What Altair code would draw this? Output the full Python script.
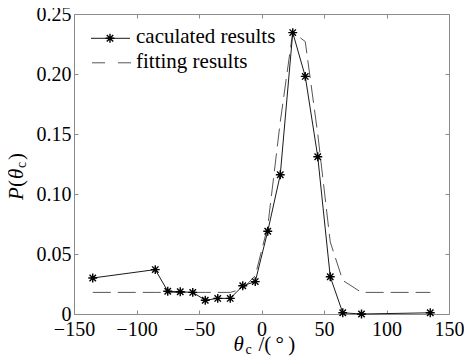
import altair as alt
import pandas as pd

# ---- data ----
theta = [-135, -85, -75, -65, -55, -45, -35, -25, -15, -5, 5, 15, 25, 35, 45, 55, 65, 80, 135]
calc = [0.030, 0.037, 0.019, 0.0185, 0.018, 0.0115, 0.013, 0.013, 0.0235, 0.027,
        0.069, 0.116, 0.2345, 0.198, 0.131, 0.031, 0.001, 0.0, 0.001]
fit = [0.018, 0.018, 0.018, 0.018, 0.018, 0.018, 0.018, 0.018, 0.021, 0.032,
       0.073, 0.160, 0.235, 0.227, 0.150, 0.060, 0.028, 0.018, 0.018]
x_ticks = [-150, -100, -50, 0, 50, 100, 150]
y_ticks = [0, 0.05, 0.10, 0.15, 0.20, 0.25]
legend_labels = ["caculated results", "fitting results"]

df = pd.DataFrame({"theta": theta, "calc": calc, "fit": fit})
dummy = pd.DataFrame({"a": [0]})

W, H = 375, 300
FONT = "Liberation Serif, Times New Roman, Times, DejaVu Serif, serif"
FRAME = "#8c8c8c"
STAR = "M-1,0L1,0M0,-1L0,1M-0.72,-0.72L0.72,0.72M-0.72,0.72L0.72,-0.72"

xs = alt.Scale(domain=[-150, 150], nice=False, zero=False)
ys = alt.Scale(domain=[0, 0.25], nice=False)


def tick_axis(orient, offset, values):
    return alt.Axis(orient=orient, offset=offset, values=values, labels=False, ticks=True,
                    tickSize=4, tickColor=FRAME, tickWidth=1, domain=False, grid=False, title=None)


# dashed fitting line: inward ticks on bottom (via top axis) and left (via right axis)
fit_layer = alt.Chart(df).mark_line(color="#555555", strokeWidth=1, strokeDash=[18, 7]).encode(
    x=alt.X("theta:Q", scale=xs, axis=tick_axis("top", -H, x_ticks)),
    y=alt.Y("fit:Q", scale=ys, axis=tick_axis("right", -W, y_ticks)),
)

# solid calculated line: carries the tick labels
calc_line = alt.Chart(df).mark_line(color="#1a1a1a", strokeWidth=1).encode(
    x=alt.X("theta:Q", scale=xs,
            axis=alt.Axis(orient="bottom", values=x_ticks, ticks=False, tickSize=0, domain=False,
                          grid=False, title=None, labelFont=FONT, labelFontSize=20,
                          labelColor="black", labelPadding=5, labelFlush=False)),
    y=alt.Y("calc:Q", scale=ys,
            axis=alt.Axis(orient="left", values=y_ticks, ticks=False, tickSize=0, domain=False,
                          grid=False, title=None, labelFont=FONT, labelFontSize=20,
                          labelColor="black", labelPadding=3, labelFlush=False,
                          labelExpr="datum.value == 0 ? '0' : format(datum.value, '.2f')")),
)

# asterisk markers: inward ticks on top (via bottom axis) and right (via left axis)
calc_pts = alt.Chart(df).mark_point(shape=STAR, filled=False, color="black", strokeWidth=1.4,
                                    size=80, opacity=1).encode(
    x=alt.X("theta:Q", scale=xs, axis=tick_axis("bottom", -H, x_ticks)),
    y=alt.Y("calc:Q", scale=ys, axis=tick_axis("left", -W, y_ticks)),
)

base = alt.Chart(dummy)

# legend (drawn by hand inside the plot, top-left)
leg_line = base.mark_rule(color="#1a1a1a", strokeWidth=1).encode(
    x=alt.value(17), x2=alt.value(56), y=alt.value(24.3))
leg_star = base.mark_point(shape=STAR, filled=False, color="black", strokeWidth=1.4,
                           size=80, opacity=1).encode(x=alt.value(36), y=alt.value(24.3))
leg_dash = base.mark_rule(color="#555555", strokeWidth=1, strokeDash=[13, 13]).encode(
    x=alt.value(18), x2=alt.value(57), y=alt.value(48.8))
leg_t1 = base.mark_text(align="left", baseline="alphabetic", font=FONT, fontSize=21,
                        color="black").encode(x=alt.value(62), y=alt.value(29.3),
                                              text=alt.value(legend_labels[0]))
leg_t2 = base.mark_text(align="left", baseline="alphabetic", font=FONT, fontSize=21,
                        color="black").encode(x=alt.value(62), y=alt.value(53.8),
                                              text=alt.value(legend_labels[1]))


def txt(s, x, y, size=21, style="normal", angle=0):
    kw = dict(align="left", baseline="alphabetic", font=FONT, fontSize=size,
              fontStyle=style, color="black")
    if angle:
        kw["angle"] = angle
    return base.mark_text(**kw).encode(x=alt.value(x), y=alt.value(y), text=alt.value(s))


# x-axis title: θ_c /( ° )
xt = [
    txt("θ", 159.5, 337, style="italic"),
    txt("c", 171.5, 340, size=14),
    txt("/(\u2009°\u2009)", 184.5, 337),
]
# y-axis title: P(θ_c), rotated
yt = [
    txt("P", -51, 186, style="italic", angle=270),
    txt("(", -51, 173, angle=270),
    txt("θ", -51, 165, style="italic", angle=270),
    txt("c", -48, 154, size=14, angle=270),
    txt(")", -51, 146, angle=270),
]

chart = alt.layer(fit_layer, calc_line, calc_pts, leg_line, leg_star, leg_dash, leg_t1, leg_t2,
                  *xt, *yt).resolve_axis(x="independent", y="independent").properties(
    width=W, height=H,
    autosize=alt.AutoSizeParams(type="none"),
    padding={"left": 66, "top": 6, "right": 15, "bottom": 42},
    background="white",
).configure_view(stroke=FRAME, strokeWidth=1)

chart.save("out.html", embed_options={"renderer": "svg", "actions": False})
